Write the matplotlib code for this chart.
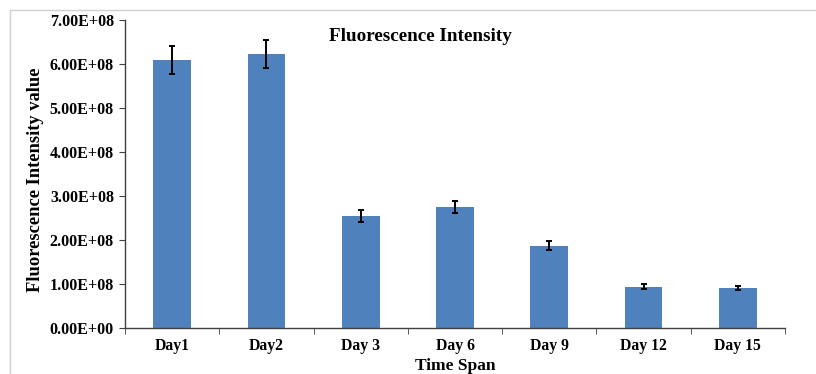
import numpy as np
import matplotlib.pyplot as plt
from matplotlib.patches import Rectangle
from matplotlib.ticker import FuncFormatter

days = ['Day1', 'Day2', 'Day 3', 'Day 6', 'Day 9', 'Day 12', 'Day 15']
intensity = [6.09e8, 6.23e8, 2.55e8, 2.75e8, 1.87e8, 0.94e8, 0.91e8]
intensity_err = [0.31e8, 0.32e8, 0.13e8, 0.14e8, 0.10e8, 0.05e8, 0.055e8]

plt.rcParams['font.family'] = ['Liberation Serif', 'DejaVu Serif']
plt.rcParams['font.weight'] = 'bold'

fig = plt.figure(figsize=(8.16, 3.74), dpi=100)
# chart area frame
fig.patches.append(Rectangle((10 / 816, -0.1), 1.0, (364 / 374) + 0.1,
                             transform=fig.transFigure, fill=False,
                             edgecolor='#d0d0d0', linewidth=1.0))

ax = fig.add_axes([125 / 816, 46 / 374, 660 / 816, 308 / 374])
x = np.arange(len(days))
ax.bar(x, intensity, width=0.4, color='#4f81bd', zorder=2)
ax.errorbar(x, intensity, yerr=intensity_err, fmt='none', ecolor='black',
            elinewidth=1.4, capsize=2.5, capthick=1.4, zorder=3)

ax.set_xlim(-0.5, len(days) - 0.5)
ax.set_ylim(0, 7e8)
ax.set_yticks(np.arange(0, 7.01e8, 1e8))
ax.yaxis.set_major_formatter(FuncFormatter(lambda v, _: f'{v:.2E}'))
ax.set_xticks(x)
ax.set_xticklabels(days)
ax.set_xticks(np.arange(-0.5, len(days)), minor=True)
ax.tick_params(axis='x', which='major', length=0, pad=7, labelsize=11.3)
ax.tick_params(axis='x', which='minor', length=4, direction='out',
               color='#404040')
ax.tick_params(axis='y', length=4, direction='out', color='#404040',
               labelsize=11.5, pad=4)

for side in ['top', 'right']:
    ax.spines[side].set_visible(False)
for side in ['left', 'bottom']:
    ax.spines[side].set_color('#404040')
    ax.spines[side].set_linewidth(1.0)

ax.set_ylabel('Fluorescence Intensity value', fontsize=13.3, fontweight='bold')
ax.yaxis.set_label_coords(-0.122, 0.48)
ax.set_xlabel('Time Span', fontsize=12.5, fontweight='bold')
ax.xaxis.set_label_coords(0.5, -0.097)
ax.text(0.447, 0.975, 'Fluorescence Intensity', transform=ax.transAxes,
        ha='center', va='top', fontsize=13.8, fontweight='bold')

fig.savefig('out.png', dpi=100)
